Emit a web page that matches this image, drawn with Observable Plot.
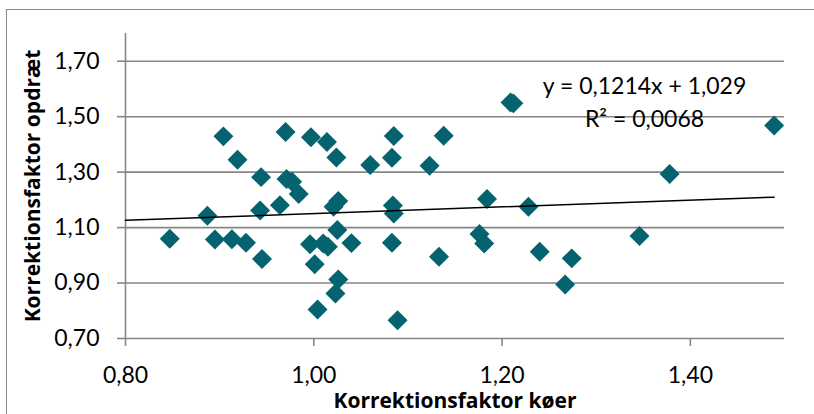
<!DOCTYPE html>
<html><head><meta charset="utf-8">
<script src="https://cdn.jsdelivr.net/npm/d3@7"></script>
<script src="https://cdn.jsdelivr.net/npm/@observablehq/plot@0.6"></script>
<style>
html,body{margin:0;padding:0;background:#fff;overflow:hidden;}
#wrap{position:relative;width:814px;height:414px;}
#border{position:absolute;left:6px;top:9px;width:900px;height:500px;border-left:1.5px solid #8a8a8a;border-top:1.5px solid #8a8a8a;}
#chart{position:absolute;left:0;top:0;}
</style></head><body>
<div id="wrap"><div id="border"></div><div id="chart"></div></div>
<script>
// Data
const koer = [0.847,0.887,0.895,0.913,0.928,0.945,0.904,0.919,0.944,0.943,0.964,0.970,0.971,0.977,0.984,0.997,1.014,1.024,1.021,1.026,1.025,0.996,1.010,1.015,1.001,1.026,1.023,1.004,1.040,1.085,1.083,1.060,1.138,1.123,1.209,1.212,1.084,1.085,1.184,1.228,1.083,1.133,1.176,1.181,1.240,1.089,1.274,1.267,1.346,1.378,1.489];
const opdraet = [1.060,1.143,1.057,1.058,1.045,0.987,1.429,1.345,1.282,1.162,1.181,1.445,1.275,1.265,1.221,1.426,1.409,1.353,1.175,1.196,1.091,1.040,1.043,1.031,0.968,0.913,0.862,0.805,1.044,1.430,1.352,1.326,1.431,1.323,1.551,1.548,1.180,1.151,1.203,1.175,1.045,0.995,1.077,1.043,1.013,0.766,0.989,0.895,1.070,1.293,1.468];
const xTicks = [0.8, 1.0, 1.2, 1.4];
const yTicks = [0.7, 0.9, 1.1, 1.3, 1.5, 1.7];
const xDomain = [0.8, 1.5];
const yDomain = [0.7, 1.8];
const trendSlope = 0.1214, trendIntercept = 1.029;
const trendX = [0.8, d3.max(koer)];
const eqText = ["y = 0,1214x + 1,029"];
const r2Text = ["R² = 0,0068"];
const xTitle = ["Korrektionsfaktor køer"];
const yTitle = ["Korrektionsfaktor opdræt"];

const points = koer.map((x, i) => ({x, y: opdraet[i]}));
const trend = trendX.map(x => ({x, y: trendSlope * x + trendIntercept}));
const fmt = d => d.toFixed(2).replace(".", ",");
const FONT = "Lato, 'Open Sans', sans-serif";
const TITLEFONT = "'Open Sans', Lato, sans-serif";
const gridColor = "#868686";

const chart = Plot.plot({
  width: 814, height: 414,
  marginLeft: 125, marginRight: 30, marginTop: 33, marginBottom: 76,
  style: {fontFamily: FONT, fontSize: "23px", color: "#000", background: "transparent"},
  x: {domain: xDomain, axis: null},
  y: {domain: yDomain, axis: null},
  marks: [
    Plot.ruleY(yTicks.slice(1), {stroke: gridColor, strokeWidth: 1.6}),
    Plot.ruleY([yDomain[0]], {stroke: gridColor, strokeWidth: 1.6}),
    Plot.ruleX([xDomain[0]], {stroke: gridColor, strokeWidth: 1.6}),
    Plot.axisY(yTicks, {tickSize: 8, tickPadding: 18, tickFormat: fmt, label: null, stroke: gridColor, strokeWidth: 1.6, fontSize: 23, fill: "#000"}),
    Plot.axisX(xTicks, {tickSize: 8, tickPadding: 20, tickFormat: fmt, label: null, stroke: gridColor, strokeWidth: 1.6, fontSize: 23, fill: "#000"}),
    Plot.dot(points, {x: "x", y: "y", symbol: "diamond2", r: 9, fill: "#05636f"}),
    Plot.line(trend, {x: "x", y: "y", stroke: "#000", strokeWidth: 1.5}),
    Plot.text(eqText, {text: d => d, frameAnchor: "top", lineAnchor: "middle", dx: 189.5, dy: 53.6, fontSize: 23, fill: "#000"}),
    Plot.text(r2Text, {text: d => d, frameAnchor: "top", lineAnchor: "middle", dx: 189.5, dy: 86.3, fontSize: 23, fill: "#000"}),
    Plot.text(xTitle, {text: d => d, frameAnchor: "bottom", textAnchor: "middle", lineAnchor: "middle", dy: 62.3, fontSize: 21, fontWeight: "bold", fontFamily: TITLEFONT, fill: "#000"}),
    Plot.text(yTitle, {text: d => d, frameAnchor: "left", textAnchor: "middle", lineAnchor: "middle", rotate: -90, dx: -92.7, fontSize: 21, fontWeight: "bold", fontFamily: TITLEFONT, fill: "#000"})
  ]
});
document.getElementById("chart").appendChild(chart);
</script>
</body></html>
